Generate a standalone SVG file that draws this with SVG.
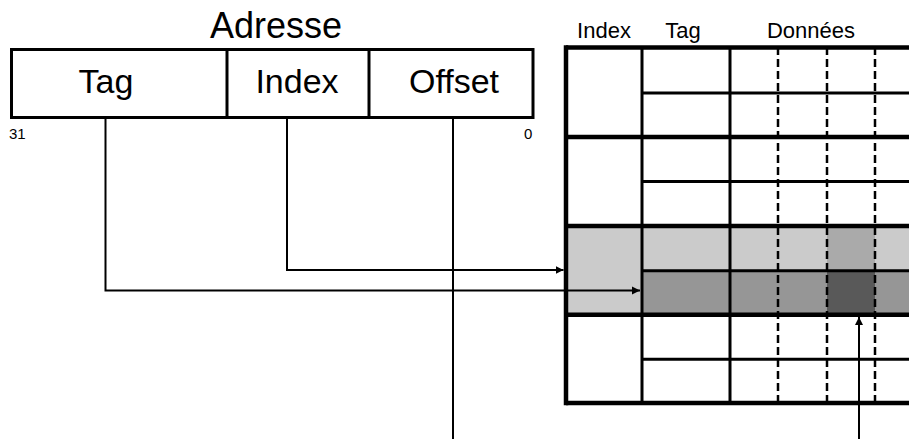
<svg xmlns="http://www.w3.org/2000/svg" width="909" height="439" viewBox="0 0 909 439">
<defs>
<style>
text{font-family:"Liberation Sans",Arial,sans-serif;fill:#000;text-anchor:middle}
.big{font-size:34px}
.title{font-size:36px}
.hdr{font-size:22px}
.bit{font-size:15px;text-anchor:start}
.box{fill:none;stroke:#000;stroke-width:3}
.grp{stroke:#000;stroke-width:4.5;fill:none}
.row{stroke:#000;stroke-width:3;fill:none}
.dash{stroke:#000;stroke-width:2.5;stroke-dasharray:8 4;fill:none}
.conn{stroke:#000;stroke-width:2;fill:none}
</style>
<marker id="arr" viewBox="0 0 10 10" refX="10" refY="5" markerWidth="8" markerHeight="10" markerUnits="userSpaceOnUse" orient="auto">
<path d="M0,0 L10,5 L0,10 Z" fill="#000"/>
</marker>
</defs>
<rect width="909" height="439" fill="#fff"/>

<g id="address">
<text class="title" x="276" y="38">Adresse</text>
<rect class="box" x="11.5" y="49.5" width="521.5" height="68"/>
<line class="box" x1="227" y1="49.5" x2="227" y2="117.5"/>
<line class="box" x1="369" y1="49.5" x2="369" y2="117.5"/>
<text class="big" x="106" y="93">Tag</text>
<text class="big" x="297" y="93">Index</text>
<text class="big" x="454" y="93">Offset</text>
<text class="bit" x="9" y="139">31</text>
<text class="bit" x="524" y="139">0</text>
</g>

<g id="cache">
<text class="hdr" x="604" y="38">Index</text>
<text class="hdr" x="683" y="38">Tag</text>
<text class="hdr" x="811" y="38">Données</text>
<rect x="566" y="226" width="343" height="45" fill="#cbcbcb"/>
<rect x="566" y="226" width="76" height="89" fill="#cbcbcb"/>
<rect x="827" y="226" width="48" height="45" fill="#aaaaaa"/>
<rect x="642" y="271" width="267" height="44" fill="#969696"/>
<rect x="827" y="271" width="48" height="44" fill="#595959"/>
<line class="dash" x1="778" y1="47" x2="778" y2="403"/>
<line class="dash" x1="827" y1="47" x2="827" y2="403"/>
<line class="dash" x1="875" y1="47" x2="875" y2="403"/>
<line class="row" x1="642" y1="47" x2="642" y2="403"/>
<line class="row" x1="730" y1="47" x2="730" y2="403"/>
<line class="row" x1="642" y1="93" x2="909" y2="93"/>
<line class="row" x1="642" y1="181.5" x2="909" y2="181.5"/>
<line class="row" x1="642" y1="270.7" x2="909" y2="270.7"/>
<line class="row" x1="642" y1="359.3" x2="909" y2="359.3"/>
<line class="grp" x1="566" y1="47.5" x2="909" y2="47.5"/>
<line class="grp" x1="566" y1="137" x2="909" y2="137"/>
<line class="grp" x1="566" y1="226" x2="909" y2="226"/>
<line class="grp" x1="566" y1="314.7" x2="909" y2="314.7"/>
<line class="grp" x1="566" y1="403" x2="909" y2="403"/>
<line class="grp" x1="566" y1="45.3" x2="566" y2="405.2"/>
</g>

<g id="connectors">
<polyline class="conn" points="287,118 287,270 563.5,270" marker-end="url(#arr)"/>
<polyline class="conn" points="105.5,118 105.5,290.5 640,290.5" marker-end="url(#arr)"/>
<line class="conn" x1="453" y1="118" x2="453" y2="439"/>
<line class="conn" x1="859" y1="439" x2="859" y2="317" marker-end="url(#arr)"/>
</g>
</svg>
